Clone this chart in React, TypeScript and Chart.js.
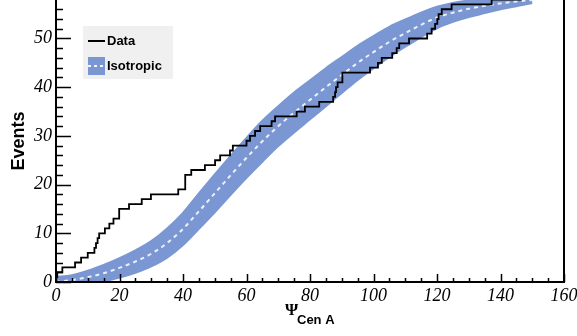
import { useEffect, useRef } from "react";
import { Chart, registerables } from "chart.js";

Chart.register(...registerables);

// Observed cumulative event count: angle (deg) at which each step occurs, and the count after it
const stepPsi = [
  0, 0.4, 2.0, 6.0, 7.9, 10.0, 12.1, 12.6, 13.1, 13.6, 15.4, 16.8, 18.1, 19.9, 23.0, 27.0, 29.9,
  38.5, 40.7, 42.6, 46.9, 50.1, 51.7, 54.8, 55.7, 60.0, 61.1, 62.7, 64.3, 67.9, 69.0, 75.8,
  78.4, 82.9, 87.3, 87.9, 88.2, 88.7, 90.2, 98.9, 101.4, 102.6, 105.9, 107.3, 108.1, 111.2,
  116.9, 118.3, 119.4, 120.1, 120.5, 121.5, 124.6, 137.2, 146.7,
];
const stepCount = [
  0, 1, 2, 3, 4, 5, 6, 7, 8, 9, 10, 11, 12, 13, 15, 16, 17,
  18, 19, 22, 23, 24, 25, 26, 27, 28, 29, 30, 31, 32, 33, 34,
  35, 36, 37, 38, 39, 40, 41, 43, 44, 45, 46, 47, 48, 49,
  50, 51, 52, 53, 54, 55, 56, 57, 58,
];

// Isotropic expectation: mean curve and its band
const isoPsi = [
  0, 5, 10, 15, 20, 25, 30, 35, 40, 45, 50, 55, 60, 65, 70, 75, 80, 85, 90, 95, 100, 105, 110,
  115, 120, 125, 130, 135, 140, 145, 150,
];
const isoMean = [
  0, 0.4, 1.0, 1.8, 2.9, 4.2, 5.8, 8.0, 10.9, 14.5, 18.2, 21.9, 25.5, 28.9, 32.0, 34.8, 37.4,
  40.0, 42.5, 45.0, 47.2, 49.3, 51.1, 52.8, 54.3, 55.3, 56.1, 56.7, 57.2, 57.6, 57.9,
];
const isoUpper = [
  1.0, 1.4, 2.3, 3.5, 4.9, 6.5, 8.4, 11.0, 14.2, 18.2, 22.1, 25.9, 29.6, 33.1, 36.1, 38.9, 41.4,
  43.9, 46.2, 48.5, 50.5, 52.4, 53.9, 55.3, 56.5, 57.3, 57.8, 58.2, 58.4, 58.6, 58.5,
];
const isoLower = [
  -1.0, -0.6, -0.3, 0.1, 0.9, 1.9, 3.2, 5.0, 7.6, 10.9, 14.3, 17.9, 21.4, 24.7, 27.9, 30.7, 33.4,
  36.1, 38.8, 41.5, 43.9, 46.2, 48.3, 50.3, 52.1, 53.4, 54.4, 55.2, 56.0, 56.6, 57.3,
];

const yLabelValues = [0, 10, 20, 30, 40, 50];
const X_MIN = 0;
const X_MAX = 160;
const Y_MIN = 0;
const Y_MAX = 57.9;

const BAND_COLOR = "#7a97d3";
const TICK_FONT = { family: "'Liberation Serif', serif", size: 18, style: "italic" as const };

const pts = (xs: number[], ys: number[]) => xs.map((x, i) => ({ x, y: ys[i] }));

// Frame, inward tick marks, axis title with subscript and the legend box
const decorations = {
  id: "decorations",
  afterDatasetsDraw(chart: any) {
    const { ctx, chartArea: a, scales } = chart;
    const xs = scales.x;
    const ys = scales.y;
    ctx.save();
    ctx.strokeStyle = "#000";
    ctx.lineWidth = 1.5;
    ctx.beginPath();
    for (let v = 0; v <= Y_MAX; v += 2) {
      const py = Math.round(ys.getPixelForValue(v)) + 0.5;
      const len = v % 10 === 0 ? 15 : 7;
      ctx.moveTo(a.left, py);
      ctx.lineTo(a.left + len, py);
    }
    for (let v = X_MIN; v <= X_MAX; v += 5) {
      const px = Math.round(xs.getPixelForValue(v)) + 0.5;
      const len = v % 20 === 0 ? 8 : 4;
      ctx.moveTo(px, a.bottom);
      ctx.lineTo(px, a.bottom - len);
    }
    ctx.stroke();

    ctx.lineWidth = 2;
    ctx.beginPath();
    ctx.moveTo(a.left, a.top);
    ctx.lineTo(a.left, a.bottom);
    ctx.lineTo(a.right, a.bottom);
    ctx.lineTo(a.right, a.top);
    ctx.stroke();
    ctx.restore();
  },
  afterDraw(chart: any) {
    const { ctx, chartArea: a } = chart;
    ctx.save();
    // x axis title: Psi with subscript
    const cx = (a.left + a.right) / 2;
    ctx.fillStyle = "#000";
    ctx.textBaseline = "alphabetic";
    ctx.textAlign = "left";
    ctx.font = "bold 17px 'Liberation Serif', serif";
    ctx.fillText("Ψ", cx - 25, a.bottom + 33);
    ctx.font = "bold 13px 'Liberation Sans', sans-serif";
    ctx.fillText("Cen A", cx - 13, a.bottom + 42);

    // legend
    const lx = a.left + 27;
    const ly = a.top + 26;
    ctx.fillStyle = "#f0f0f0";
    ctx.fillRect(lx, ly, 90, 53);
    ctx.strokeStyle = "#000";
    ctx.lineWidth = 2;
    ctx.beginPath();
    ctx.moveTo(lx + 5, ly + 15);
    ctx.lineTo(lx + 22, ly + 15);
    ctx.stroke();
    ctx.fillStyle = BAND_COLOR;
    ctx.fillRect(lx + 5, ly + 31, 17, 18);
    ctx.strokeStyle = "rgba(255,255,255,0.9)";
    ctx.setLineDash([3, 3]);
    ctx.beginPath();
    ctx.moveTo(lx + 5, ly + 40);
    ctx.lineTo(lx + 22, ly + 40);
    ctx.stroke();
    ctx.setLineDash([]);
    ctx.fillStyle = "#000";
    ctx.font = "bold 13px 'Liberation Sans', sans-serif";
    ctx.textBaseline = "middle";
    ctx.fillText("Data", lx + 24, ly + 15.5);
    ctx.fillText("Isotropic", lx + 24, ly + 40);
    ctx.restore();
  },
};

export default function App() {
  const canvasRef = useRef<HTMLCanvasElement | null>(null);

  useEffect(() => {
    if (!canvasRef.current) return;
    const chart = new Chart(canvasRef.current, {
      type: "line",
      data: {
        datasets: [
          {
            label: "Data",
            data: pts(stepPsi, stepCount),
            stepped: "after",
            borderColor: "#000",
            borderWidth: 1.8,
            pointRadius: 0,
            fill: false,
            order: 0,
          },
          {
            label: "Isotropic",
            data: pts(isoPsi, isoMean),
            borderColor: "rgba(255,255,255,0.85)",
            borderWidth: 2,
            borderDash: [4, 4],
            pointRadius: 0,
            cubicInterpolationMode: "monotone",
            fill: false,
            order: 1,
          },
          {
            label: "band upper",
            data: pts(isoPsi, isoUpper),
            borderColor: BAND_COLOR,
            borderWidth: 2,
            backgroundColor: BAND_COLOR,
            pointRadius: 0,
            cubicInterpolationMode: "monotone",
            fill: "+1",
            order: 2,
          },
          {
            label: "band lower",
            data: pts(isoPsi, isoLower),
            borderColor: BAND_COLOR,
            borderWidth: 2,
            pointRadius: 0,
            cubicInterpolationMode: "monotone",
            fill: false,
            order: 3,
          },
        ],
      },
      options: {
        animation: false,
        responsive: false,
        layout: { padding: { left: 0, right: 13, top: 0, bottom: 0 } },
        plugins: { legend: { display: false }, tooltip: { enabled: false } },
        scales: {
          x: {
            type: "linear",
            min: X_MIN,
            max: X_MAX,
            grid: { display: false, drawTicks: false, tickLength: 0 },
            border: { display: false },
            ticks: {
              stepSize: 20,
              autoSkip: false,
              maxRotation: 0,
              padding: 3,
              color: "#000",
              font: TICK_FONT,
            },
            afterFit: (s: any) => {
              s.height = 54;
              s.paddingLeft = 0;
              s.paddingRight = 0;
            },
          },
          y: {
            type: "linear",
            min: Y_MIN,
            max: Y_MAX,
            grid: { display: false, drawTicks: false, tickLength: 0 },
            border: { display: false },
            afterBuildTicks: (s: any) => {
              s.ticks = yLabelValues.map((v) => ({ value: v }));
            },
            ticks: {
              padding: 4,
              color: "#000",
              font: TICK_FONT,
            },
            title: {
              display: true,
              text: "Events",
              color: "#000",
              font: { family: "'Liberation Sans', sans-serif", size: 18, weight: "bold" },
              padding: { top: 8, bottom: 0 },
            },
            afterFit: (s: any) => {
              s.width = 56;
              s.paddingTop = 0;
              s.paddingBottom = 0;
            },
          },
        },
      },
      plugins: [decorations],
    });
    return () => chart.destroy();
  }, []);

  return (
    <div style={{ position: "fixed", left: 0, top: 0, width: 577, height: 336, background: "#fff" }}>
      <canvas ref={canvasRef} width={577} height={336} style={{ display: "block" }} />
    </div>
  );
}
